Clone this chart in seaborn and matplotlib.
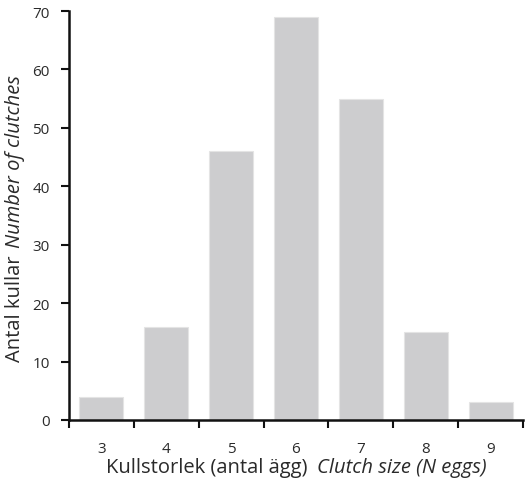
import matplotlib
matplotlib.use("Agg")
import matplotlib.pyplot as plt
import seaborn as sns
import pandas as pd
import numpy as np

clutch_sizes = ["3", "4", "5", "6", "7", "8", "9"]
counts = [4, 16, 46, 69, 55, 15, 3]
y_ticks = [0, 10, 20, 30, 40, 50, 60, 70]

sns.set_theme(style="ticks")
plt.rcParams["font.family"] = ["Open Sans", "DejaVu Sans"]

df = pd.DataFrame({"size": clutch_sizes, "count": counts})

fig = plt.figure(figsize=(5.3, 4.85), dpi=100)
ax = fig.add_axes([69/530, 1 - 421/485, (523 - 69)/530, (421 - 12)/485])

sns.barplot(data=df, x="size", y="count", color="#cdcdcf", saturation=1,
            width=0.68, edgecolor="#e4e4e4", linewidth=0.8, ax=ax)

ax.set_xlim(-0.5, len(clutch_sizes) - 0.5)
ax.set_ylim(0, 70)
ax.set_yticks(y_ticks)
ax.set_xlabel("")
ax.set_ylabel("")

txt = "#2a2a2a"
# x: labels at centers, tick marks at category boundaries
ax.set_xticks(range(len(clutch_sizes)))
ax.set_xticklabels(clutch_sizes)
ax.tick_params(axis="x", which="major", length=0, pad=15, labelsize=11, colors=txt)
ax.set_xticks(np.arange(-0.5, len(clutch_sizes)), minor=True)
ax.tick_params(axis="x", which="minor", length=6, width=1.5, direction="out", color="#111111")
ax.tick_params(axis="y", length=6, width=1.5, direction="out", labelsize=11,
               color="#111111", labelcolor=txt, pad=8)

for s in ["top", "right"]:
    ax.spines[s].set_visible(False)
for s in ["left", "bottom"]:
    ax.spines[s].set_linewidth(1.8)
    ax.spines[s].set_color("#111111")

# composite axis labels (regular + italic)
fig.text(308/530, 1 - 468/485, "Kullstorlek (antal ägg)", ha="right", va="center",
         fontsize=14.5, color=txt)
fig.text(317/530, 1 - 468/485, "Clutch size (N eggs)", ha="left", va="center",
         fontsize=14.5, color=txt, style="italic")
fig.text(15/530, 1 - 256/485, "Antal kullar", ha="center", va="top", rotation=90,
         fontsize=14.5, color=txt)
fig.text(15/530, 1 - 248/485, "Number of clutches", ha="center", va="bottom", rotation=90,
         fontsize=14.5, color=txt, style="italic")

fig.savefig("out.png", dpi=100)
